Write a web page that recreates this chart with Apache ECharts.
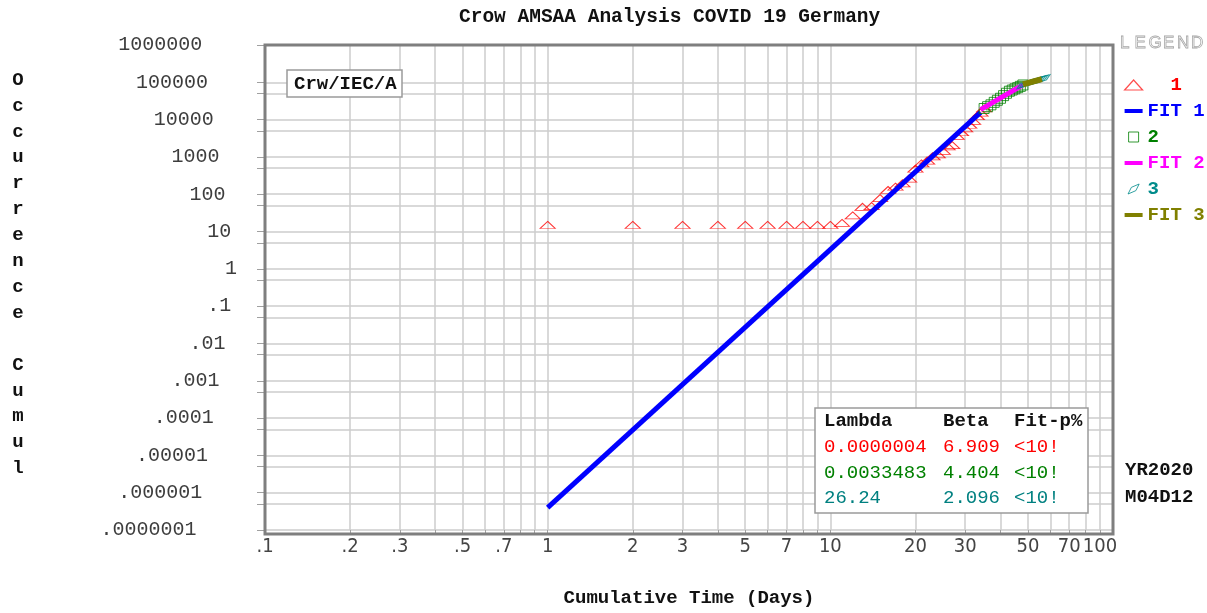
<!DOCTYPE html>
<html>
<head>
<meta charset="utf-8">
<script src="https://cdn.jsdelivr.net/npm/echarts@6/dist/echarts.min.js"></script>
<style>html,body{margin:0;padding:0;background:#fff;}#c{width:1207px;height:613px;}</style>
</head>
<body>
<div id="c"></div>
<script>
// ---- data ----
const days1 = [1,2,3,4,5,6,7,8,9,10,11,12,13,14,15,16,17,18,19,20,21,22,23,24,25,26,27,28,29,30,31,32,33,34,35];
const cum1  = [15,15,15,15,15,15,15,15,15,15,17,27,46,48,79,130,159,196,262,482,670,799,1040,1176,1457,1908,2078,3675,4585,5795,7272,9257,12327,15320,19848];
const days2 = [35,36,37,38,39,40,41,42,43,44,45,46,47,48];
const cum2  = [19848,22213,24873,29056,32986,37323,43938,50871,57695,62095,66885,71808,77872,84794];
const days3 = [48,49,50,51,52,53,54,55,56,57];
const cum3  = [84794,91159,96092,100123,103374,107663,113296,118181,122171,124908];
// fitted lines (end points)
const fit1Days = [1, 34];   const fit1Vals = [4e-7, 15700];
const fit2Days = [34, 48];  const fit2Vals = [18600, 85000];
const fit3Days = [48, 56];  const fit3Vals = [87700, 121000];
// tick labels
const xTickValues = [0.1,0.2,0.3,0.5,0.7,1,2,3,5,7,10,20,30,50,70,100];
const xTickLabels = ['.1','.2','.3','.5','.7','1','2','3','5','7','10','20','30','50','70','100'];
const yTickValues = [1e-7,1e-6,1e-5,1e-4,1e-3,1e-2,1e-1,1,10,100,1000,10000,100000,1000000];
const yTickLabels = ['.0000001','.000001','.00001','.0001','.001','.01','.1','1','10','100','1000','10000','100000','1000000'];
// stats table
const statsHeader = ['Lambda','Beta','Fit-p%'];
const lambdas = ['0.0000004','0.0033483','26.24'];
const betas   = ['6.909','4.404','2.096'];
const fitP    = ['<10!','<10!','<10!'];
const statColors = ['#ff0000','#008000','#008080'];

// ---- gridline positions ----
const xGrid = [];
[0.1,1,10].forEach(d => { for (let m = 1; m <= 9; m++) xGrid.push(+(d*m).toPrecision(3)); });
xGrid.push(100);
const yGrid = [];
for (let e = -7; e <= 6; e++) { yGrid.push(+('1e' + e)); if (e <= 4) yGrid.push(+('5e' + e)); }

const MONO = "'Liberation Mono', 'DejaVu Sans Mono', monospace";
const NARROW = "'Liberation Sans Narrow', 'DejaVu Sans Condensed', 'Liberation Sans', sans-serif";

const pair = (xs, ys) => xs.map((x, i) => [x, ys[i]]);

const yRich = {};
for (let n = 1; n <= 8; n++) yRich['p' + n] = { padding: [0, (n - 1) * 5.8, 0, 0] };

function nearestIdx(arr, v) {
  let best = 0, bd = Infinity;
  arr.forEach((a, i) => { const d = Math.abs(Math.log10(a) - Math.log10(v)); if (d < bd) { bd = d; best = i; } });
  return best;
}
const xLabelFmt = v => xTickLabels[nearestIdx(xTickValues, v)];
const xLabelStyle = { fontFamily: NARROW, fontSize: 20, color: '#444', margin: 7 };

const chart = echarts.init(document.getElementById('c'));
const graphics = [];
// plot border
graphics.push({ type: 'rect', shape: { x: 265, y: 45, width: 848, height: 489 }, style: { fill: 'none', stroke: '#7f7f7f', lineWidth: 3 }, z: 100, silent: true });
// Crw/IEC/A box
graphics.push({ type: 'rect', shape: { x: 287, y: 70, width: 115, height: 27 }, style: { fill: '#fff', stroke: '#9a9a9a', lineWidth: 1.5 }, z: 100 });
graphics.push({ type: 'text', x: 294, y: 84, style: { text: 'Crw/IEC/A', font: 'bold 19px ' + MONO, fill: '#111', textVerticalAlign: 'middle' }, z: 101 });
// stats box
graphics.push({ type: 'rect', shape: { x: 815, y: 408, width: 273, height: 105 }, style: { fill: '#fff', stroke: '#9a9a9a', lineWidth: 1.5 }, z: 100 });
const colX = [824, 943, 1014];
statsHeader.forEach((t, i) => graphics.push({ type: 'text', x: colX[i], y: 421, style: { text: t, font: 'bold 19px ' + MONO, fill: '#111', textVerticalAlign: 'middle' }, z: 101 }));
[lambdas, betas, fitP].forEach((col, ci) => col.forEach((t, ri) => graphics.push({ type: 'text', x: colX[ci], y: 447 + ri * 25.5, style: { text: t, font: '19px ' + MONO, fill: statColors[ri], textVerticalAlign: 'middle' }, z: 101 })));
// date stamp
graphics.push({ type: 'text', x: 1125, y: 470, style: { text: 'YR2020', font: 'bold 19px ' + MONO, fill: '#111', textVerticalAlign: 'middle' } });
graphics.push({ type: 'text', x: 1125, y: 497, style: { text: 'M04D12', font: 'bold 19px ' + MONO, fill: '#111', textVerticalAlign: 'middle' } });
// vertical y axis name
graphics.push({ type: 'text', x: 18, y: 67, style: { text: 'Occurrence Cumul'.split('').join('\n'), font: 'bold 19px ' + MONO, lineHeight: 25.9, fill: '#111', textAlign: 'center' } });
// LEGEND outline letters
const legendWord = 'LEGEND'.split('');
const legendX = [1120, 1134.5, 1148.5, 1163, 1177, 1191];
legendWord.forEach((ch, i) => graphics.push({ type: 'text', x: legendX[i], y: 43, style: { text: ch, font: '17px ' + "'Liberation Sans', sans-serif", fill: 'rgba(0,0,0,0)', stroke: '#a8a8a8', lineWidth: 0.8, textVerticalAlign: 'middle' } }));

const option = {
  animation: false,
  backgroundColor: '#fff',
  title: { text: 'Crow AMSAA Analysis COVID 19 Germany', left: 459, top: 7, padding: 0, textStyle: { fontFamily: MONO, fontWeight: 'bold', fontSize: 19.5, color: '#111' } },
  grid: { left: 265, right: 94, top: 45, bottom: 79, show: true, backgroundColor: '#fff', borderWidth: 0 },
  legend: {
    orient: 'vertical', left: 1119, top: 70, itemWidth: 18, itemHeight: 10, itemGap: 6, selectedMode: false,
    textStyle: { fontFamily: MONO, fontWeight: 'bold', fontSize: 19, lineHeight: 20 },
    formatter: n => (n === '1' ? '  1' : n),
    data: [
      { name: '1', icon: 'triangle', itemStyle: { color: 'rgba(255,255,255,0)', borderColor: '#ff2020', borderWidth: 1.2 }, textStyle: { color: '#ff0000' } },
      { name: 'FIT 1', icon: 'path://M0,0H18V4H0Z', itemStyle: { color: '#0000ff', borderWidth: 0 }, textStyle: { color: '#0000ff' } },
      { name: '2', icon: 'path://M0,0H8V8H0Z', itemStyle: { color: 'rgba(0,0,0,0)', borderColor: '#008000', borderWidth: 1 }, textStyle: { color: '#008000' } },
      { name: 'FIT 2', icon: 'path://M0,0H18V4H0Z', itemStyle: { color: '#ff00ff', borderWidth: 0 }, textStyle: { color: '#ff00ff' } },
      { name: '3', icon: 'path://M0,9L3,3L10,0L7,6Z', itemStyle: { color: 'rgba(0,0,0,0)', borderColor: '#008b8b', borderWidth: 1 }, textStyle: { color: '#008b8b' } },
      { name: 'FIT 3', icon: 'path://M0,0H18V4H0Z', itemStyle: { color: '#808000', borderWidth: 0 }, textStyle: { color: '#808000' } }
    ]
  },
  xAxis: [{
    type: 'log', logBase: 10, min: 0.1, max: 100, position: 'bottom',
    name: 'Cumulative Time (Days)', nameLocation: 'middle', nameGap: 59,
    nameTextStyle: { fontFamily: MONO, fontWeight: 'bold', fontSize: 19, color: '#111' },
    axisLine: { show: false },
    axisTick: { show: true, customValues: xGrid, length: 5, lineStyle: { color: '#a0a0a0' } },
    splitLine: { show: true, lineStyle: { color: '#cdcdcd', width: 1.5 } },
    axisLabel: Object.assign({ customValues: xTickValues.slice(0, -1), showMinLabel: true, showMaxLabel: true, formatter: xLabelFmt }, xLabelStyle)
  }, {
    // second label row carrying only the right-most tick label ("100"), pulled left inside the plot edge
    type: 'log', logBase: 10, min: 0.1, max: 100, position: 'bottom', offset: 0,
    axisLine: { show: false }, axisTick: { show: false }, splitLine: { show: false },
    axisLabel: Object.assign({
      customValues: xTickValues.slice(-1), showMinLabel: true, showMaxLabel: true,
      formatter: v => '{last|' + xLabelFmt(v) + '}',
      rich: { last: { padding: [0, 26, 0, 0] } }
    }, xLabelStyle)
  }],
  yAxis: {
    type: 'log', logBase: 10, min: 1e-7, max: 1e6,
    axisLine: { show: false },
    axisTick: { show: true, customValues: yGrid, length: 8, lineStyle: { color: '#a0a0a0' } },
    splitLine: { show: true, lineStyle: { color: '#cdcdcd', width: 1.5 } },
    axisLabel: {
      customValues: yTickValues, margin: 28, fontFamily: MONO, fontSize: 20, color: '#3d3d3d',
      showMinLabel: true, showMaxLabel: true,
      formatter: v => { const t = yTickLabels[nearestIdx(yTickValues, v)]; return '{p' + t.length + '|' + t + '}'; },
      rich: yRich
    }
  },
  series: [
    { name: '1', type: 'scatter', data: pair(days1, cum1), symbol: 'triangle', symbolSize: [15, 7], itemStyle: { color: 'rgba(0,0,0,0)', borderColor: '#ff0000', borderWidth: 1 }, emphasis: { disabled: true }, z: 2 },
    { name: 'FIT 1', type: 'line', data: pair(fit1Days, fit1Vals), symbol: 'none', itemStyle: { color: '#0000ff' }, lineStyle: { color: '#0000ff', width: 5 }, z: 3 },
    { name: '2', type: 'scatter', data: pair(days2, cum2), symbol: 'rect', symbolSize: 10, itemStyle: { color: 'rgba(0,0,0,0)', borderColor: '#008000', borderWidth: 1 }, emphasis: { disabled: true }, z: 4 },
    { name: 'FIT 2', type: 'line', data: pair(fit2Days, fit2Vals), symbol: 'none', itemStyle: { color: '#ff00ff' }, lineStyle: { color: '#ff00ff', width: 5 }, z: 5 },
    { name: '3', type: 'scatter', data: pair(days3, cum3), symbol: 'path://M0,9L3,3L10,0L7,6Z', symbolSize: [12, 8], itemStyle: { color: 'rgba(0,0,0,0)', borderColor: '#008b8b', borderWidth: 1 }, emphasis: { disabled: true }, z: 6 },
    { name: 'FIT 3', type: 'line', data: pair(fit3Days, fit3Vals), symbol: 'none', itemStyle: { color: '#808000' }, lineStyle: { color: '#808000', width: 6 }, z: 7 }
  ],
  graphic: graphics
};
chart.setOption(option);
</script>
</body>
</html>
